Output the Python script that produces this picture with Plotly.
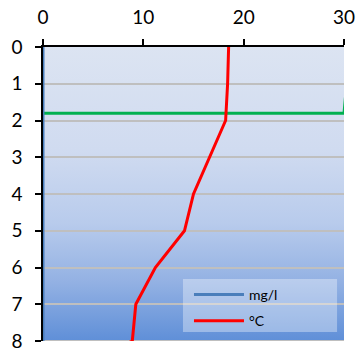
import base64
import plotly.graph_objects as go

# Depth profile (m) and measured values
depth = [0, 1, 2, 3, 4, 5, 6, 7, 8, 8.5]
temperature = [18.5, 18.4, 18.2, 16.6, 15.0, 14.1, 11.2, 9.25, 8.9, 5.0]
oxygen_depth = [0, 8]
oxygen = [0, 0]
marker_x = [0, 30, 30.2]
marker_depth = [1.8, 1.8, 1.2]

x_ticks = [0, 10, 20, 30]
y_ticks = [0, 1, 2, 3, 4, 5, 6, 7, 8]

# Vertical gradient used as the plot-area background
svg = (
    '<svg xmlns="http://www.w3.org/2000/svg" width="100" height="100" preserveAspectRatio="none">'
    '<defs><linearGradient id="g" x1="0" y1="0" x2="0" y2="1">'
    '<stop offset="0" stop-color="#dce4f2"/>'
    '<stop offset="0.35" stop-color="#d0dbf0"/>'
    '<stop offset="0.6" stop-color="#b8cbec"/>'
    '<stop offset="0.8" stop-color="#93b1e3"/>'
    '<stop offset="1" stop-color="#5f8fd8"/>'
    '</linearGradient></defs>'
    '<rect width="100" height="100" fill="url(#g)"/></svg>'
)
bg_src = "data:image/svg+xml;base64," + base64.b64encode(svg.encode()).decode()

fig = go.Figure()
fig.add_trace(go.Scatter(
    x=marker_x, y=marker_depth, mode="lines",
    line=dict(color="#00b050", width=3), showlegend=False, hoverinfo="skip",
))
fig.add_trace(go.Scatter(
    x=oxygen, y=oxygen_depth, mode="lines", name="mg/l", legendgroup="a",
    line=dict(color="#4a7ebb", width=3),
))
fig.add_trace(go.Scatter(
    x=temperature, y=depth, mode="lines", name="°C", legendgroup="b",
    line=dict(color="#ff0000", width=3),
))

# Bottom grid line sits on the range edge, so draw it explicitly
fig.add_shape(type="line", xref="x", yref="y", x0=0, x1=30, y0=8, y1=8,
              line=dict(color="#bfbfbf", width=2), layer="below")
# Translucent legend panel
fig.add_shape(type="rect", xref="paper", yref="paper",
              x0=0.465, x1=0.977, y0=0.031, y1=0.211,
              fillcolor="rgba(255,255,255,0.35)", line=dict(width=0), layer="above")

fig.update_layout(
    width=358, height=349,
    margin=dict(l=43, r=14, t=47, b=8),
    paper_bgcolor="white",
    plot_bgcolor="#dce4f2",
    font=dict(family="Lato, 'Open Sans', sans-serif", size=19, color="black"),
    images=[dict(
        source=bg_src, xref="paper", yref="paper", x=0, y=1,
        sizex=1, sizey=1, sizing="stretch", layer="below",
        xanchor="left", yanchor="top",
    )],
    legend=dict(
        x=0.485, y=0.211, xanchor="left", yanchor="top",
        bgcolor="rgba(0,0,0,0)", borderwidth=0,
        font=dict(size=14), tracegroupgap=5, traceorder="grouped",
        itemwidth=50,
    ),
    xaxis=dict(
        side="top", range=[0, 30], tickvals=x_ticks,
        showgrid=False, zeroline=False, automargin=False,
        showline=True, linecolor="black", linewidth=1.5,
        ticks="outside", ticklen=6, tickwidth=1.5, tickcolor="black",
        ticklabelstandoff=8, ticklabeloverflow="allow",
    ),
    yaxis=dict(
        range=[8, 0], tickvals=y_ticks,
        showgrid=True, gridcolor="#bfbfbf", gridwidth=2, zeroline=False,
        automargin=False,
        showline=True, linecolor="black", linewidth=1.5,
        ticks="outside", ticklen=6, tickwidth=1.5, tickcolor="black",
        ticklabelstandoff=9, ticklabeloverflow="allow",
    ),
)

fig.write_html("out.html")
